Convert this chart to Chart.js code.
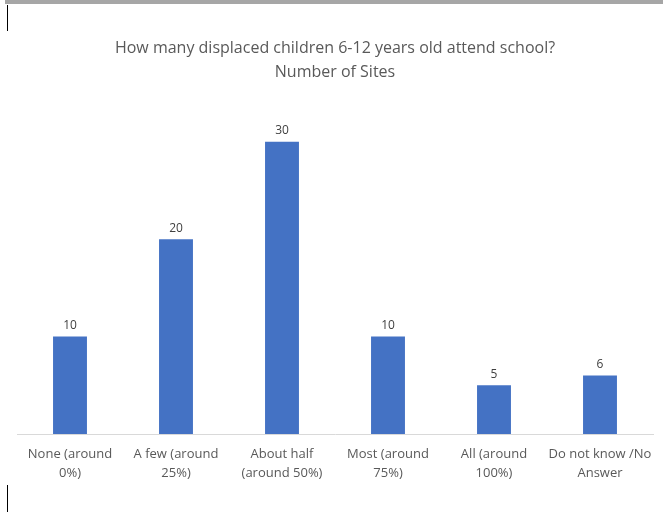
<!DOCTYPE html>
<html lang="en">
<head>
  <meta charset="UTF-8">
  <script src="https://cdn.jsdelivr.net/npm/chart.js@4.4.0/dist/chart.umd.min.js"></script>
  <style>
    body { margin: 0; background: #fff; }
    .wrap { position: relative; width: 663px; height: 514px; }
    .topbar { position: absolute; left: 5px; top: 0; width: 658px; height: 4px; background: #a6a6a6; }
    .tick1 { position: absolute; left: 7px; top: 5px; width: 1px; height: 26px; background: #000; }
    .tick2 { position: absolute; left: 7px; top: 485px; width: 1px; height: 27px; background: #000; }
    canvas { position: absolute; left: 0; top: 0; }
  </style>
</head>
<body>
  <div class="wrap">
    <canvas id="chart" width="663" height="514"></canvas>
    <div class="topbar"></div>
    <div class="tick1"></div>
    <div class="tick2"></div>
  </div>
  <script>
    const categories = [
      ['None (around', '0%)'],
      ['A few (around', '25%)'],
      ['About half', '(around 50%)'],
      ['Most (around', '75%)'],
      ['All (around', '100%)'],
      ['Do not know /No', 'Answer']
    ];
    const sites = [10, 20, 30, 10, 5, 6];
    const titleLines = ['How many displaced children 6-12 years old attend school?', 'Number of Sites'];

    // labels above each bar
    const barLabels = {
      id: 'barLabels',
      afterDatasetsDraw(chart) {
        const ctx = chart.ctx;
        ctx.save();
        ctx.font = '12px "Open Sans", sans-serif';
        ctx.fillStyle = '#404040';
        ctx.textAlign = 'center';
        ctx.textBaseline = 'bottom';
        chart.getDatasetMeta(0).data.forEach((bar, i) => {
          ctx.fillText(chart.data.datasets[0].data[i], bar.x, bar.y - 5);
        });
        ctx.restore();
      }
    };

    new Chart(document.getElementById('chart'), {
      type: 'bar',
      data: {
        labels: categories,
        datasets: [{
          data: sites,
          backgroundColor: '#4472C4',
          categoryPercentage: 1,
          barPercentage: 0.32
        }]
      },
      options: {
        responsive: false,
        animation: false,
        layout: { padding: { left: 17, right: 10, top: 0, bottom: 28 } },
        scales: {
          y: { display: false, min: 0, max: 35 },
          x: {
            grid: { display: false },
            border: { color: '#d9d9d9', width: 1 },
            ticks: {
              color: '#595959',
              padding: 3,
              maxRotation: 0,
              autoSkip: false,
              font: { family: '"Open Sans", sans-serif', size: 13, lineHeight: 1.46 }
            }
          }
        },
        plugins: {
          legend: { display: false },
          tooltip: { enabled: false },
          title: {
            display: true,
            text: titleLines,
            color: '#595959',
            font: { family: '"Open Sans", sans-serif', size: 16, weight: 'normal', lineHeight: 1.5 },
            padding: { top: 36, bottom: 9 }
          }
        }
      },
      plugins: [barLabels]
    });
  </script>
</body>
</html>
